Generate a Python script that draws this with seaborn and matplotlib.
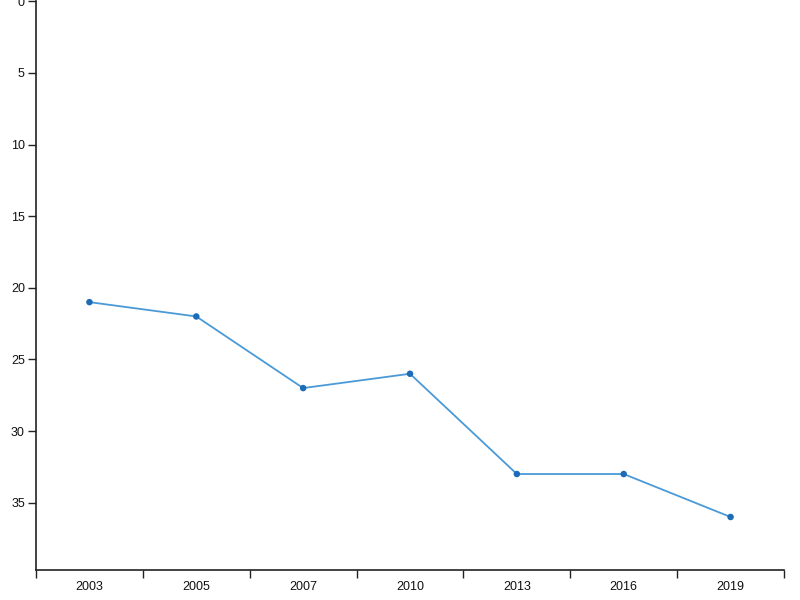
import matplotlib
matplotlib.use("Agg")
import matplotlib.pyplot as plt
import seaborn as sns
import pandas as pd
import numpy as np

# données
years = ["2003", "2005", "2007", "2010", "2013", "2016", "2019"]
values = [21, 22, 27, 26, 33, 33, 36]
y_ticks = [0, 5, 10, 15, 20, 25, 30, 35]

df = pd.DataFrame({"year": years, "value": values})

sns.set_style("ticks")
plt.rcParams["font.family"] = ["Liberation Sans", "DejaVu Sans"]

fig = plt.figure(figsize=(8, 6), dpi=100)
ax = fig.add_axes([0.045, 0.05, 0.935, 0.9478])

sns.lineplot(data=df, x="year", y="value", ax=ax, color="#4a9ad8", linewidth=1.3)
sns.scatterplot(data=df, x="year", y="value", ax=ax, color="#1c6cb8",
                s=22, edgecolor="none", zorder=3)

n = len(years)
ax.set_xlim(-0.5, n - 0.5)
ax.set_ylim(39.7, 0)

# graduations aux bords des bandes, libellés au centre
ax.set_xticks(np.arange(n + 1) - 0.5)
ax.set_xticklabels([])
ax.set_xticks(np.arange(n), minor=True)
ax.set_xticklabels(years, minor=True)
ax.tick_params(axis="x", which="major", length=6, width=1, color="#222222")
ax.tick_params(axis="x", which="minor", length=0, pad=8, labelsize=9, labelcolor="#111111")

ax.set_yticks(y_ticks)
ax.set_yticklabels([str(t) for t in y_ticks])
ax.tick_params(axis="y", length=6, width=1, pad=2, color="#222222", labelsize=9, labelcolor="#111111")

for side in ["left", "bottom"]:
    ax.spines[side].set_color("#222222")
    ax.spines[side].set_linewidth(1.2)
sns.despine(ax=ax)

ax.set_xlabel("")
ax.set_ylabel("")

fig.savefig("out.png", dpi=100)
